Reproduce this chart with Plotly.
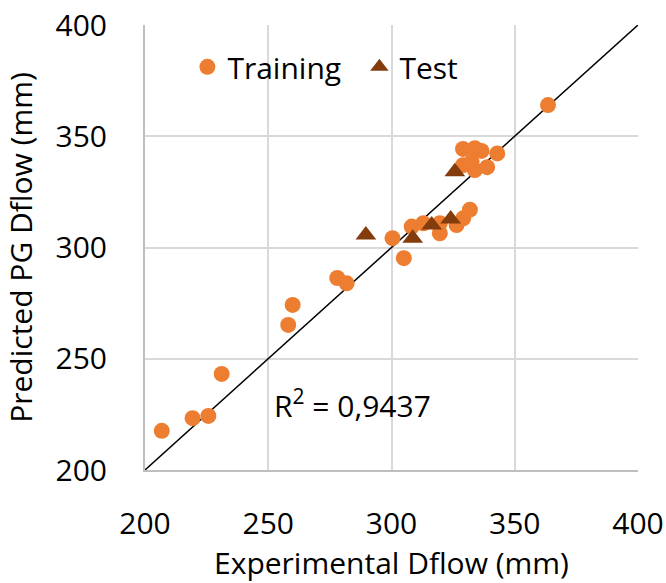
import plotly.graph_objects as go

# Training data (Experimental, Predicted)
train_x = [363.5, 329.0, 333.8, 336.5, 342.9, 329.0, 332.5, 333.8, 338.8, 331.8,
           329.1, 326.4, 319.6, 319.6, 312.9, 308.2, 300.4, 305.0, 278.0, 281.8,
           259.9, 258.1, 231.1, 219.3, 225.7, 206.8]
train_y = [364.0, 344.3, 344.6, 343.4, 342.3, 337.0, 338.5, 334.8, 336.1, 317.0,
           313.1, 310.1, 306.4, 310.9, 310.9, 309.4, 304.2, 295.2, 286.3, 283.9,
           274.2, 265.2, 243.2, 223.3, 224.3, 217.6]

# Test data
test_x = [325.7, 316.3, 324.0, 308.6, 289.6]
test_y = [334.1, 310.1, 312.8, 304.2, 305.6]

# Ideal line
line_x = [200, 400]
line_y = [200, 400]

tick_vals = [200, 250, 300, 350, 400]
r2_text = "R<sup>2</sup> = 0,9437"

FONT = "Open Sans"
FS = 30

fig = go.Figure()
fig.add_trace(go.Scatter(x=line_x, y=line_y, mode="lines",
                         line=dict(color="black", width=1.5), showlegend=False,
                         hoverinfo="skip"))
fig.add_trace(go.Scatter(x=train_x, y=train_y, mode="markers", name="Training",
                         marker=dict(symbol="circle", size=16, color="#ED7D31")))
fig.add_trace(go.Scatter(x=test_x, y=test_y, mode="markers", name="Test",
                         marker=dict(symbol="triangle-up", size=18, color="#843C0C")))

fig.add_annotation(x=251.5, y=229.5, xref="x", yref="y", text=r2_text,
                   showarrow=False, xanchor="left", yanchor="middle",
                   font=dict(family=FONT, size=FS, color="black"))

axis_common = dict(range=[200, 400], tickvals=tick_vals, showgrid=True,
                   gridcolor="#d9d9d9", gridwidth=1.5, showline=True,
                   linecolor="#bfbfbf", linewidth=2, zeroline=False,
                   ticks="", tickfont=dict(family=FONT, size=FS, color="black"),
                   automargin=False)

fig.update_layout(
    width=666, height=583,
    margin=dict(l=145, r=28, t=25, b=113),
    paper_bgcolor="white", plot_bgcolor="white",
    font=dict(family=FONT, size=FS, color="black"),
    xaxis=dict(**axis_common,
               title=dict(text="Experimental Dflow (mm)", standoff=19,
                          font=dict(family=FONT, size=FS, color="black")),
               ticklabelstandoff=26),
    yaxis=dict(**axis_common,
               title=dict(text="Predicted PG Dflow (mm)", standoff=16,
                          font=dict(family=FONT, size=FS, color="black")),
               ticklabelstandoff=30),
    legend=dict(orientation="h", x=0.086, y=0.906, xanchor="left", yanchor="middle",
                bgcolor="rgba(0,0,0,0)", font=dict(family=FONT, size=FS),
                entrywidth=127, itemwidth=30, tracegroupgap=0),
    showlegend=True,
)

fig.write_html("out.html")
